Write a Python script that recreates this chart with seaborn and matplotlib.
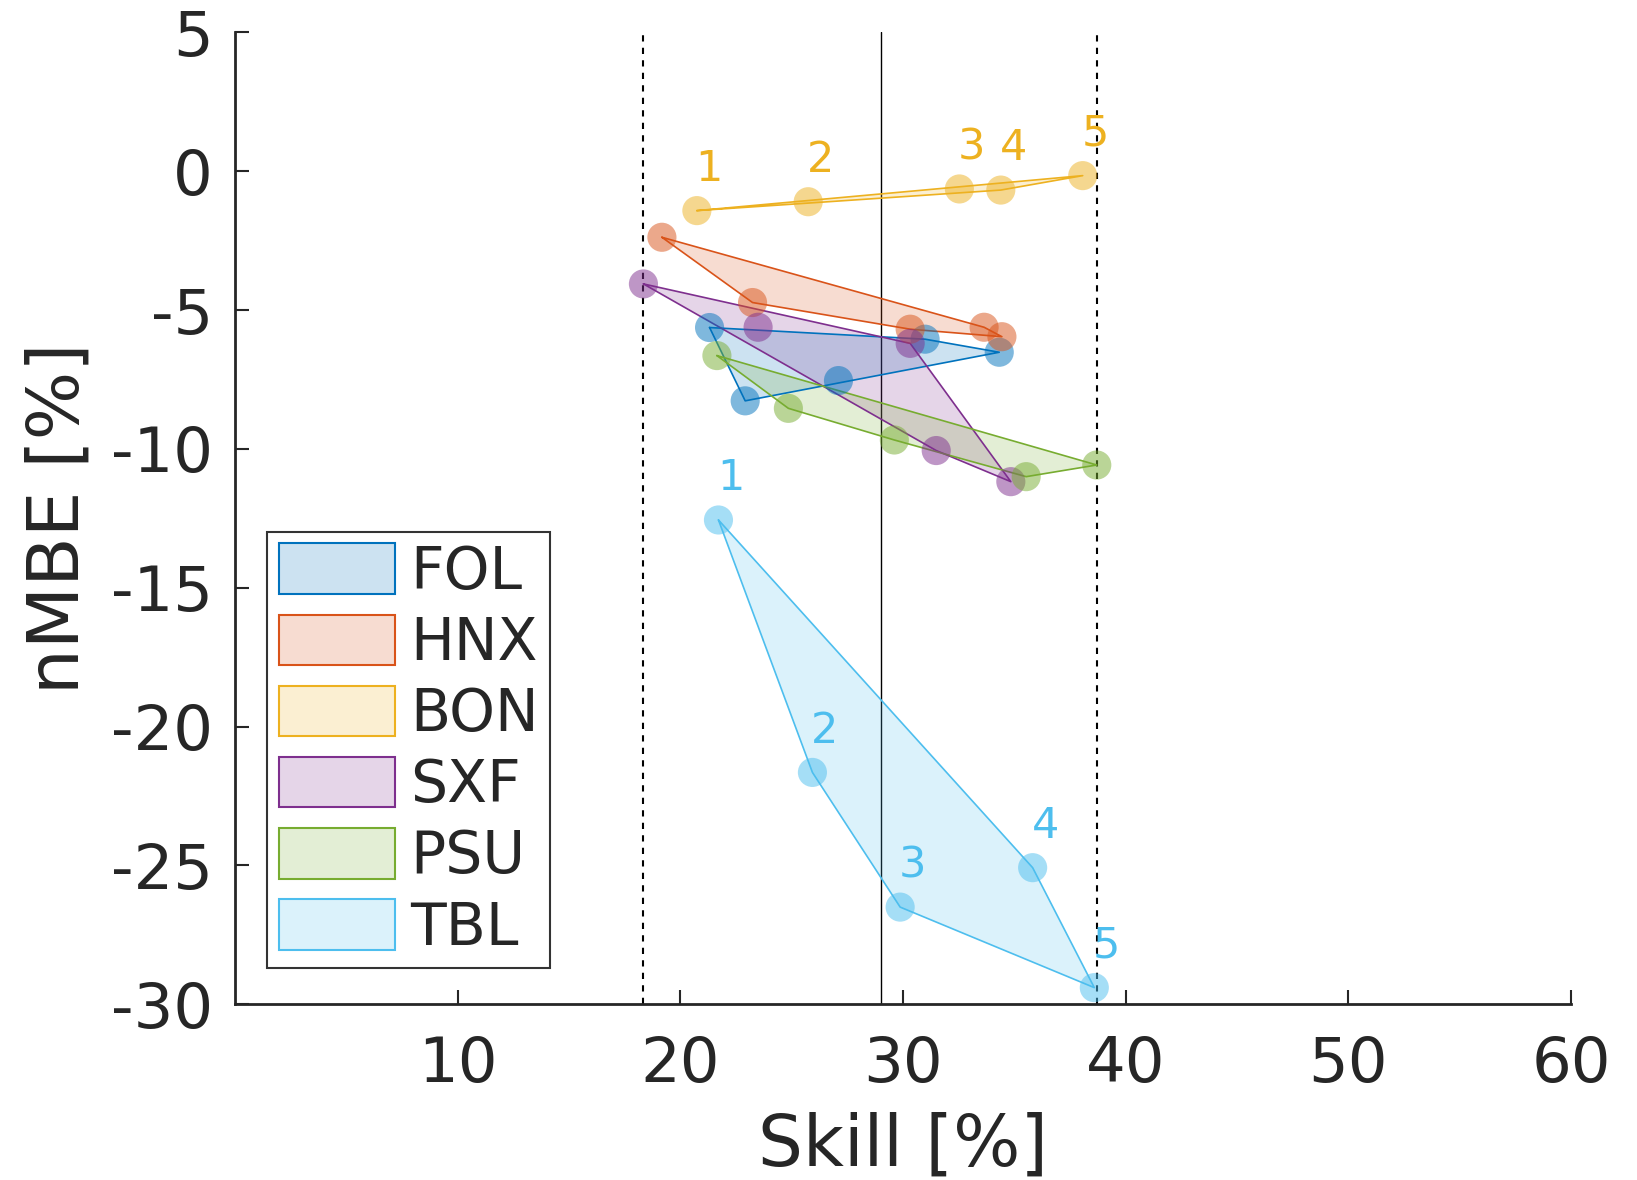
import numpy as np
import pandas as pd
import matplotlib
matplotlib.use("Agg")
import matplotlib.pyplot as plt
import seaborn as sns
from matplotlib.patches import Patch

# stations and their (skill, nMBE) points
stations = ["FOL", "HNX", "BON", "SXF", "PSU", "TBL"]
colors = ["#0072BD", "#D95319", "#EDB120", "#7E2F8E", "#77AC30", "#4DBEEE"]

skill = {
    "FOL": [21.31, 22.91, 27.10, 30.99, 34.32],
    "HNX": [19.17, 23.24, 30.32, 33.64, 34.44],
    "BON": [20.74, 25.74, 32.53, 34.39, 38.07],
    "SXF": [18.34, 23.49, 30.32, 31.49, 34.84],
    "PSU": [21.64, 24.85, 29.61, 35.53, 38.70],
    "TBL": [21.71, 25.93, 29.87, 35.82, 38.59],
}
nmbe = {
    "FOL": [-5.63, -8.27, -7.54, -6.05, -6.52],
    "HNX": [-2.38, -4.73, -5.69, -5.62, -5.96],
    "BON": [-1.42, -1.10, -0.64, -0.68, -0.16],
    "SXF": [-4.06, -5.62, -6.20, -10.06, -11.18],
    "PSU": [-6.64, -8.54, -9.68, -11.00, -10.58],
    "TBL": [-12.56, -21.65, -26.50, -25.08, -29.40],
}
numbered = ["BON", "TBL"]
x_ticks = [10, 20, 30, 40, 50, 60]
y_ticks = [5, 0, -5, -10, -15, -20, -25, -30]

rows = []
for s in stations:
    for i, (x, y) in enumerate(zip(skill[s], nmbe[s])):
        rows.append({"station": s, "n": i + 1, "skill": x, "nmbe": y})
df = pd.DataFrame(rows)


def hull(pts):
    pts = sorted(pts)
    def cross(o, a, b):
        return (a[0] - o[0]) * (b[1] - o[1]) - (a[1] - o[1]) * (b[0] - o[0])
    lower, upper = [], []
    for p in pts:
        while len(lower) >= 2 and cross(lower[-2], lower[-1], p) <= 0:
            lower.pop()
        lower.append(p)
    for p in reversed(pts):
        while len(upper) >= 2 and cross(upper[-2], upper[-1], p) <= 0:
            upper.pop()
        upper.append(p)
    return lower[:-1] + upper[:-1]


sns.set_theme(style="ticks")
plt.rcParams["font.family"] = ["DejaVu Sans"]

fig = plt.figure(figsize=(16.37, 11.8), dpi=100)
ax = fig.add_axes([0.1436, 0.1489, 0.8161, 0.8237])

palette = dict(zip(stations, colors))

# filled hulls
for s in stations:
    h = np.array(hull(list(zip(skill[s], nmbe[s]))))
    ax.fill(h[:, 0], h[:, 1], facecolor=palette[s], alpha=0.2, edgecolor="none", zorder=1)
    hc = np.vstack([h, h[:1]])
    ax.plot(hc[:, 0], hc[:, 1], color=palette[s], lw=1.2, zorder=2)

sns.scatterplot(data=df, x="skill", y="nmbe", hue="station", palette=palette,
                s=440, alpha=0.5, edgecolor="none", legend=False, ax=ax, zorder=3)

for s in numbered:
    for i, (x, y) in enumerate(zip(skill[s], nmbe[s])):
        ax.annotate(str(i + 1), (x, y), xytext=(9, 15), textcoords="offset points",
                    ha="center", va="bottom", fontsize=31, color=palette[s])

all_skill = df["skill"]
ax.axvline(all_skill.min(), color="black", ls=(0, (3, 3)), lw=1.5, zorder=0)
ax.axvline(all_skill.max(), color="black", ls=(0, (3, 3)), lw=1.5, zorder=0)
ax.axvline(all_skill.mean(), color="black", lw=1.0, zorder=0)

ax.set_xlim(0, 60)
ax.set_ylim(-30, 5)
ax.set_xticks(x_ticks)
ax.set_yticks(y_ticks)
ax.set_yticklabels([str(t) for t in y_ticks])
ax.tick_params(direction="in", length=10, width=1.5, labelsize=45, colors=".15")
ax.tick_params(axis="x", pad=22)
ax.tick_params(axis="y", pad=16)
ax.set_xlabel("Skill [%]", fontsize=51, color=".15", labelpad=12)
ax.set_ylabel("nMBE [%]", fontsize=52, color=".15", labelpad=12)
for sp in ["left", "bottom"]:
    ax.spines[sp].set_linewidth(2)
    ax.spines[sp].set_color(".15")
sns.despine(ax=ax)

handles = [Patch(facecolor=matplotlib.colors.to_rgba(palette[s], 0.2),
                 edgecolor=palette[s], linewidth=1.5, label=s) for s in stations]
leg = ax.legend(handles=handles, loc="lower left", bbox_to_anchor=(0.024, 0.037),
                fontsize=42, frameon=True, fancybox=False, edgecolor="black",
                handlelength=2.0, handleheight=0.95, labelspacing=0.24,
                handletextpad=0.25, borderpad=0.2, borderaxespad=0)
leg.get_frame().set_linewidth(1.5)

fig.savefig("out.png", dpi=100)
